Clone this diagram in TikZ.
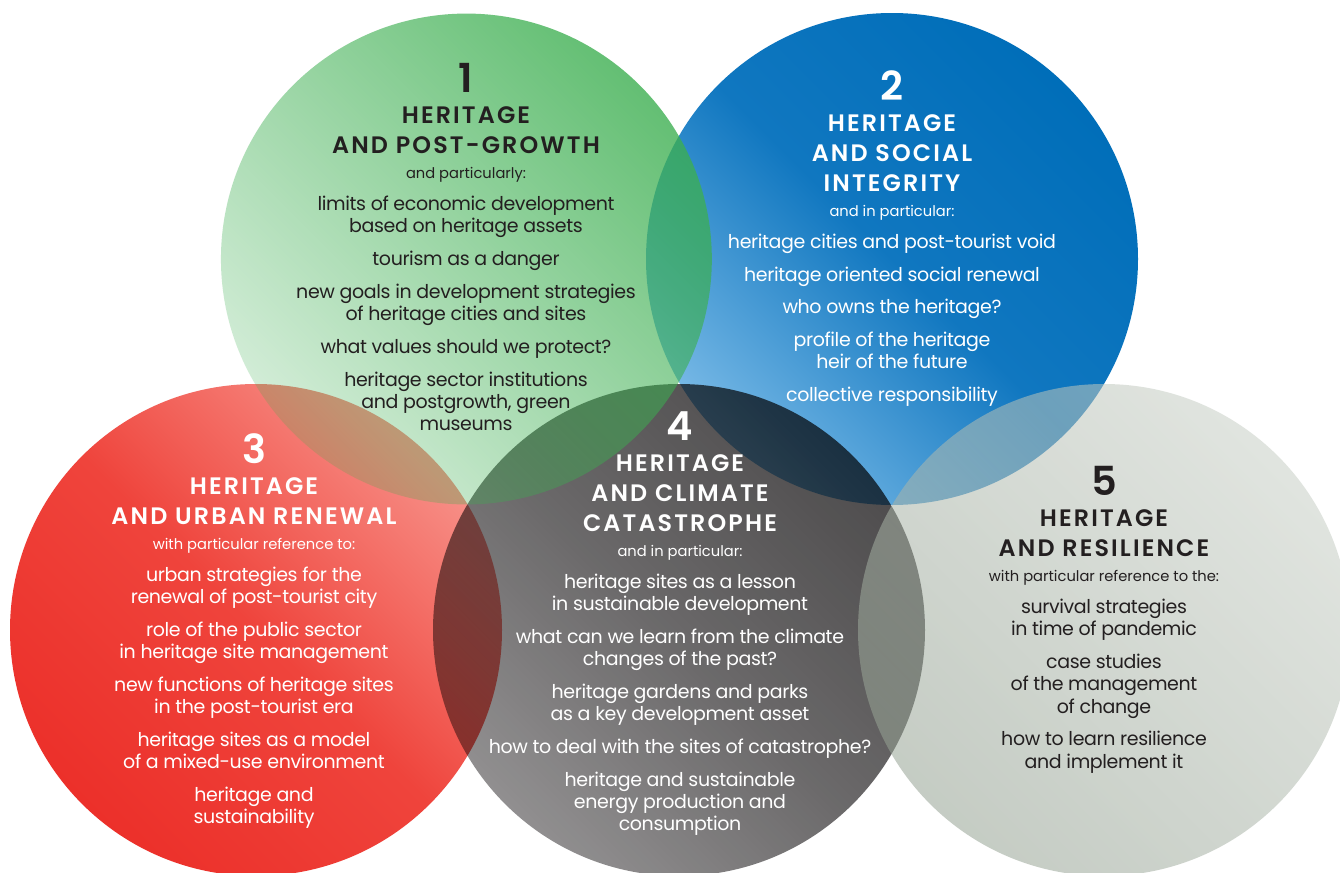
\documentclass[tikz,border=0pt]{standalone}
\usepackage{fontspec}
\setmainfont{Poppins}
\IfFontExistsTF{Poppins SemiBold}{\newfontfamily\headfont{Poppins SemiBold}}{\newcommand{\headfont}{\bfseries}}
\usepackage{tikz}
\usetikzlibrary{positioning,fadings}
\definecolor{hgreen}{RGB}{60,175,80}
\definecolor{hbluedark}{RGB}{0,110,185}
\definecolor{hbluemid}{RGB}{16,119,192}
\definecolor{hbluelight}{RGB}{120,185,230}
\definecolor{hreddark}{RGB}{236,48,42}
\definecolor{hredmid}{RGB}{239,68,60}
\definecolor{hredlight}{RGB}{247,144,136}
\definecolor{hgreydark}{RGB}{48,46,47}
\definecolor{hgreymid}{RGB}{80,78,79}
\definecolor{hgreylight}{RGB}{126,124,125}
\definecolor{hsagelight}{RGB}{200,207,198}
\definecolor{hsagedark}{RGB}{150,163,148}
\definecolor{hink}{RGB}{35,31,32}
\tikzfading[name=fadegreen, top color=transparent!20, bottom color=transparent!78]
\tikzstyle{numtext} = [font=\fontsize{20}{12}\selectfont\headfont, inner sep=0pt, anchor=base, execute at begin node=\strut]
\tikzstyle{headtext} = [font=\fontsize{11.9}{15}\selectfont\headfont\addfontfeatures{LetterSpace=9}, align=center, inner sep=0pt, execute at begin node=\strut, execute at end node=\strut]
\tikzstyle{leadtext} = [font=\fontsize{7.35}{9}\selectfont, inner sep=0pt, execute at begin node=\strut]
\tikzstyle{itemtext} = [font=\fontsize{9.5}{11.15}\selectfont\addfontfeatures{LetterSpace=-2}, align=center, inner sep=0pt, execute at begin node=\strut, execute at end node=\strut]

\begin{document}
\begin{tikzpicture}[x=0.5pt, y=-0.5pt]
\fill[white] (0,0) rectangle (1340,873);
\useasboundingbox (0,0) rectangle (1340,873);

% circle centres
\coordinate (c1) at (468,259);
\coordinate (c2) at (892,259);
\coordinate (c3) at (256,630);
\coordinate (c4) at (679,630);
\coordinate (c5) at (1104,630);

% circles
\shade[top color=hbluedark, bottom color=hbluelight, middle color=hbluemid, shading angle=-45] (c2) circle (246);
\shade[top color=hredlight, bottom color=hreddark, middle color=hredmid, shading angle=-45] (c3) circle (246);
\begin{scope}[blend mode=multiply]
\shade[top color=hgreydark, bottom color=hgreylight, middle color=hgreymid, shading angle=-45, opacity=0.85] (c4) circle (246);
\end{scope}
\fill[hgreen, path fading=fadegreen, fading angle=-45] (c1) circle (246);
\shade[top color=hsagelight, bottom color=hsagedark, shading angle=-45, opacity=0.55] (c5) circle (246);

% topic 1
\node[numtext, text=hink] (n1) at (466,92) {1};
\node[headtext, text=hink, below=3.4pt of n1] (h1) {HERITAGE\\AND POST-GROWTH};
\node[leadtext, text=hink, below=1.45pt of h1] (l1) {and particularly:};
\node[itemtext, text=hink, below=5.5pt of l1] (t1) {limits of economic development\\based on heritage assets\\[5.2pt]tourism as a danger\\[5.2pt]new goals in development strategies\\of heritage cities and sites\\[5.2pt]what values should we protect?\\[5.2pt]heritage sector institutions\\and postgrowth, green\\museums};

% topic 2
\node[numtext, text=white] (n2) at (892,100) {2};
\node[headtext, text=white, below=3.4pt of n2] (h2) {HERITAGE\\AND SOCIAL\\INTEGRITY};
\node[leadtext, text=white, below=1.45pt of h2] (l2) {and in particular:};
\node[itemtext, text=white, below=5.5pt of l2] (t2) {heritage cities and post-tourist void\\[5.2pt]heritage oriented social renewal\\[5.2pt]who owns the heritage?\\[5.2pt]profile of the heritage\\heir of the future\\[5.2pt]collective responsibility};

% topic 3
\node[numtext, text=white] (n3) at (254,463) {3};
\node[headtext, text=white, below=3.4pt of n3] (h3) {HERITAGE\\AND URBAN RENEWAL};
\node[leadtext, text=white, below=1.45pt of h3] (l3) {with particular reference to:};
\node[itemtext, text=white, below=5.5pt of l3] (t3) {urban strategies for the\\renewal of post-tourist city\\[5.2pt]role of the public sector\\in heritage site management\\[5.2pt]new functions of heritage sites\\in the post-tourist era\\[5.2pt]heritage sites as a model\\of a mixed-use environment\\[5.2pt]heritage and\\sustainability};

% topic 4
\node[numtext, text=white] (n4) at (680,440) {4};
\node[headtext, text=white, below=3.4pt of n4] (h4) {HERITAGE\\AND CLIMATE\\CATASTROPHE};
\node[leadtext, text=white, below=1.45pt of h4] (l4) {and in particular:};
\node[itemtext, text=white, below=5.5pt of l4] (t4) {heritage sites as a lesson\\in sustainable development\\[5.2pt]what can we learn from the climate\\changes of the past?\\[5.2pt]heritage gardens and parks\\as a key development asset\\[5.2pt]how to deal with the sites of catastrophe?\\[5.2pt]heritage and sustainable\\energy production and\\consumption};

% topic 5
\node[numtext, text=hink] (n5) at (1104,495) {5};
\node[headtext, text=hink, below=3.4pt of n5] (h5) {HERITAGE\\AND RESILIENCE};
\node[leadtext, text=hink, below=1.45pt of h5] (l5) {with particular reference to the:};
\node[itemtext, text=hink, below=5.5pt of l5] (t5) {survival strategies\\in time of pandemic\\[5.2pt]case studies\\of the management\\of change\\[5.2pt]how to learn resilience\\and implement it};
\end{tikzpicture}
\end{document}
